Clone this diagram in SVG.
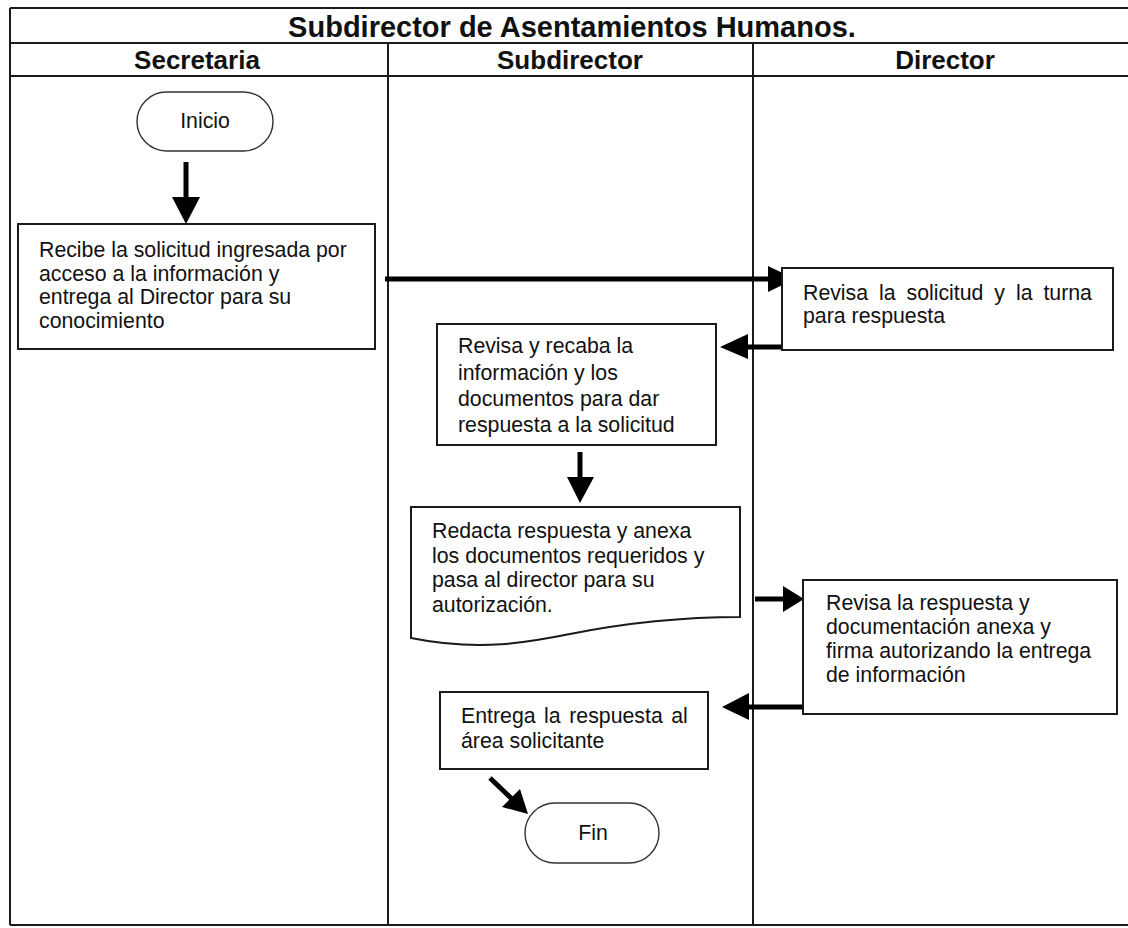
<svg xmlns="http://www.w3.org/2000/svg" width="1128" height="928" viewBox="0 0 1128 928">
  <defs>
    <style>
      .frame { fill: none; stroke: #1a1a1a; stroke-width: 2; }
      .box { fill: #ffffff; stroke: #1a1a1a; stroke-width: 2; }
      .term { fill: #ffffff; stroke: #333333; stroke-width: 1.4; }
      .shaft { fill: none; stroke: #000000; stroke-width: 5; }
      .head { fill: #000000; stroke: none; }
      .title { font-family: "Liberation Sans", Arial, sans-serif; font-weight: bold; font-size: 29px; fill: #111111; }
      .lane { font-family: "Liberation Sans", Arial, sans-serif; font-weight: bold; font-size: 26px; fill: #111111; }
      .txt { font-family: "Liberation Sans", Arial, sans-serif; font-size: 21.3px; fill: #111111; }
    </style>
  </defs>
  <rect width="1128" height="928" fill="#ffffff"/>

  <!-- swimlane table -->
  <g id="lanes">
    <line class="frame" x1="10" y1="8" x2="1128" y2="8"/>
    <line class="frame" x1="10" y1="43" x2="1128" y2="43"/>
    <line class="frame" x1="10" y1="76" x2="1128" y2="76"/>
    <line class="frame" x1="10" y1="925" x2="1128" y2="925"/>
    <line class="frame" x1="10" y1="8" x2="10" y2="925"/>
    <line class="frame" x1="388" y1="43" x2="388" y2="925"/>
    <line class="frame" x1="753" y1="43" x2="753" y2="925"/>
    <text class="title" x="572" y="37" text-anchor="middle">Subdirector de Asentamientos Humanos.</text>
    <text class="lane" x="197" y="69" text-anchor="middle">Secretaria</text>
    <text class="lane" x="570" y="69" text-anchor="middle">Subdirector</text>
    <text class="lane" x="945" y="69" text-anchor="middle">Director</text>
  </g>

  <!-- connectors -->
  <g id="connectors">
    <line class="shaft" x1="186" y1="162" x2="186" y2="199"/>
    <polygon class="head" points="172,197 200,197 186,224"/>

    <line class="shaft" x1="385" y1="279" x2="770" y2="279"/>
    <polygon class="head" points="768,266 768,292 795,279"/>

    <line class="shaft" x1="782" y1="347" x2="745" y2="347"/>
    <polygon class="head" points="748,334 748,359 720,347"/>

    <line class="shaft" x1="580" y1="452" x2="580" y2="479"/>
    <polygon class="head" points="567,477 594,477 580,503"/>

    <line class="shaft" x1="755" y1="599" x2="785" y2="599"/>
    <polygon class="head" points="783,586 783,612 804,599"/>

    <line class="shaft" x1="803" y1="707" x2="746" y2="707"/>
    <polygon class="head" points="749,693 749,720 722,707"/>

    <line class="shaft" x1="490" y1="778" x2="512" y2="799"/>
    <polygon class="head" points="502,807 520,789 528,814"/>
  </g>

  <g id="inicio">
    <rect class="term" x="137" y="92" width="136" height="59" rx="29.5" ry="29.5"/>
    <text class="txt" x="205" y="128" text-anchor="middle">Inicio</text>
  </g>

  <g id="recibe">
    <rect class="box" x="18" y="224" width="357" height="125"/>
    <text class="txt" x="39" y="257">Recibe la solicitud ingresada por</text>
    <text class="txt" x="39" y="280.5">acceso a la información y</text>
    <text class="txt" x="39" y="304">entrega al Director para su</text>
    <text class="txt" x="39" y="327.5">conocimiento</text>
  </g>

  <g id="revisa-solicitud">
    <rect class="box" x="782" y="268" width="331" height="82"/>
    <text class="txt" x="803" y="300" word-spacing="5">Revisa la solicitud y la turna</text>
    <text class="txt" x="803" y="323">para respuesta</text>
  </g>

  <g id="recaba">
    <rect class="box" x="437" y="324" width="279" height="121"/>
    <text class="txt" x="458" y="353">Revisa y recaba la</text>
    <text class="txt" x="458" y="380">información y los</text>
    <text class="txt" x="458" y="406">documentos para dar</text>
    <text class="txt" x="458" y="432">respuesta a la solicitud</text>
  </g>

  <g id="redacta">
    <path class="box" d="M411,507 H740 V617 C680,617 620,624 570,634 C530,642 480,652 411,638 Z"/>
    <text class="txt" x="432" y="538">Redacta respuesta y anexa</text>
    <text class="txt" x="432" y="562.5">los documentos requeridos y</text>
    <text class="txt" x="432" y="587">pasa al director para su</text>
    <text class="txt" x="432" y="612">autorización.</text>
  </g>

  <g id="revisa-respuesta">
    <rect class="box" x="803" y="580" width="314" height="134"/>
    <text class="txt" x="826" y="610">Revisa la respuesta y</text>
    <text class="txt" x="826" y="634">documentación anexa y</text>
    <text class="txt" x="826" y="658">firma autorizando la entrega</text>
    <text class="txt" x="826" y="682">de información</text>
  </g>

  <g id="entrega">
    <rect class="box" x="440" y="692" width="268" height="77"/>
    <text class="txt" x="461" y="723" word-spacing="2.6">Entrega la respuesta al</text>
    <text class="txt" x="461" y="748">área solicitante</text>
  </g>

  <g id="fin">
    <rect class="term" x="525" y="803" width="134" height="60" rx="30" ry="30"/>
    <text class="txt" x="593" y="840" text-anchor="middle">Fin</text>
  </g>
</svg>
